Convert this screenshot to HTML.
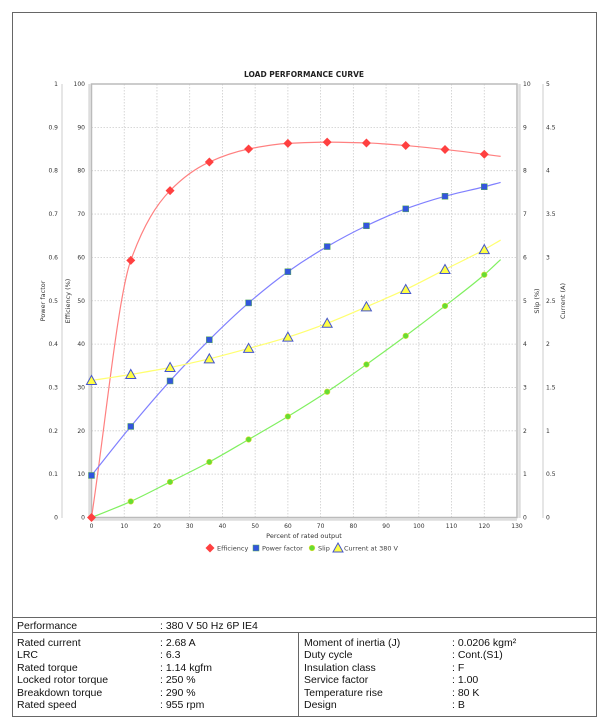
<!DOCTYPE html>
<html><head><meta charset="utf-8">
<style>
html,body{margin:0;padding:0;background:#fff;}
body{width:610px;height:728px;position:relative;overflow:hidden;font-family:"Liberation Sans",sans-serif;}
svg text{font-family:"DejaVu Sans","Liberation Sans",sans-serif;}
.tbl{position:absolute;font-size:10.5px;color:#111;}
</style></head><body>
<svg id="s" width="610" height="728" style="position:absolute;left:0;top:0">
<rect x="12.5" y="12.5" width="584" height="704" fill="none" stroke="#666" stroke-width="1"/>
<line x1="12" y1="617.5" x2="597" y2="617.5" stroke="#666"/>
<line x1="12" y1="632.5" x2="597" y2="632.5" stroke="#666"/>
<line x1="298.5" y1="632" x2="298.5" y2="717" stroke="#666"/>
<text x="304" y="77" font-size="7.5" font-weight="bold" text-anchor="middle" fill="#222">LOAD PERFORMANCE CURVE</text>
<g id="g"></g>
</svg>
<div class="tbl" style="left:17px;top:620px">Performance</div>
<div class="tbl" style="left:160px;top:620px">: 380 V 50 Hz 6P IE4</div>
<div class="tbl" style="left:17px;top:637px;line-height:12.4px">Rated current<br>LRC<br>Rated torque<br>Locked rotor torque<br>Breakdown torque<br>Rated speed</div>
<div class="tbl" style="left:160px;top:637px;line-height:12.4px">: 2.68 A<br>: 6.3<br>: 1.14 kgfm<br>: 250 %<br>: 290 %<br>: 955 rpm</div>
<div class="tbl" style="left:304px;top:637px;line-height:12.4px">Moment of inertia (J)<br>Duty cycle<br>Insulation class<br>Service factor<br>Temperature rise<br>Design</div>
<div class="tbl" style="left:452px;top:637px;line-height:12.4px">: 0.0206 kgm²<br>: Cont.(S1)<br>: F<br>: 1.00<br>: 80 K<br>: B</div>
<script>
var g=document.getElementById('g'),h='';
var X0=91.5,XS=(517-91.5)/130,Y0=517.5,YS=(517.5-84)/100;
function X(v){return X0+v*XS}function Y(v){return Y0-v*YS}
for(var i=10;i<130;i+=10)h+='<line x1="'+X(i)+'" y1="84" x2="'+X(i)+'" y2="517.5" stroke="#ccc" stroke-dasharray="1.5,1.5" stroke-width="0.8"/>';
for(var i=10;i<100;i+=10)h+='<line x1="91.5" y1="'+Y(i)+'" x2="517" y2="'+Y(i)+'" stroke="#ccc" stroke-dasharray="1.5,1.5" stroke-width="0.8"/>';
h+='<rect x="91.5" y="84" width="425.5" height="433.5" fill="none" stroke="#bbb" stroke-width="1.5"/>';
h+='<line x1="89.5" y1="84" x2="89.5" y2="518" stroke="#ddd" stroke-width="2.5"/>';
h+='<line x1="519.5" y1="84" x2="519.5" y2="518" stroke="#ddd" stroke-width="2.5"/>';
h+='<line x1="91" y1="519.5" x2="517" y2="519.5" stroke="#ddd" stroke-width="2.5"/>';
h+='<line x1="62" y1="84" x2="62" y2="518" stroke="#ddd" stroke-width="1.5"/>';
h+='<line x1="543" y1="84" x2="543" y2="518" stroke="#ddd" stroke-width="1.5"/>';
var ts='font-size="6" fill="#333"';
for(var i=0;i<=10;i++){var y=Y(i*10)+2;
h+='<text x="58" y="'+y+'" text-anchor="end" '+ts+'>'+(i==0?'0':i==10?'1':(i/10).toFixed(1))+'</text>';
h+='<text x="85" y="'+y+'" text-anchor="end" '+ts+'>'+(i*10)+'</text>';
h+='<text x="523" y="'+y+'" '+ts+'>'+i+'</text>';
h+='<text x="546" y="'+y+'" '+ts+'>'+(i%2?(i/2).toFixed(1):i/2)+'</text>';}
for(var i=0;i<=130;i+=10)h+='<text x="'+X(i)+'" y="528" text-anchor="middle" '+ts+'>'+i+'</text>';
h+='<text x="304" y="538" text-anchor="middle" font-size="6.5" fill="#333">Percent of rated output</text>';
h+='<text transform="translate(45,301) rotate(-90)" text-anchor="middle" font-size="6.5" fill="#333">Power factor</text>';
h+='<text transform="translate(70,301) rotate(-90)" text-anchor="middle" font-size="6.5" fill="#333">Efficiency (%)</text>';
h+='<text transform="translate(539,301) rotate(-90)" text-anchor="middle" font-size="6.5" fill="#333">Slip (%)</text>';
h+='<text transform="translate(565,301) rotate(-90)" text-anchor="middle" font-size="6.5" fill="#333">Current (A)</text>';
var xs=[0,12,24,36,48,60,72,84,96,108,120];
var eff=[0,59.3,75.4,82,85,86.3,86.6,86.4,85.8,84.9,83.8],effE=83.3;
var pf=[.097,.21,.315,.41,.495,.567,.625,.673,.712,.741,.763],pfE=.773;
var sl=[0,.37,.82,1.28,1.8,2.33,2.9,3.53,4.19,4.88,5.6],slE=5.95;
var cu=[1.58,1.65,1.73,1.83,1.95,2.08,2.24,2.43,2.63,2.86,3.09],cuE=3.2;
function curve(vals,end,sc,col){
var px=xs.concat([125]),py=vals.concat([end]).map(function(v){return v*sc});
var n=px.length,dl=[],m=[];
for(var i=0;i<n-1;i++)dl.push((py[i+1]-py[i])/(px[i+1]-px[i]));
m[0]=dl[0];m[n-1]=dl[n-2];
for(var i=1;i<n-1;i++){if(dl[i-1]*dl[i]<=0)m[i]=0;else{var w1=2*(px[i+1]-px[i])+(px[i]-px[i-1]),w2=(px[i+1]-px[i])+2*(px[i]-px[i-1]);m[i]=(w1+w2)/(w1/dl[i-1]+w2/dl[i]);}}
var d='M'+X(px[0])+','+Y(py[0]);
for(var i=0;i<n-1;i++){var hh=px[i+1]-px[i];
d+=' C'+X(px[i]+hh/3)+','+Y(py[i]+m[i]*hh/3)+' '+X(px[i+1]-hh/3)+','+Y(py[i+1]-m[i+1]*hh/3)+' '+X(px[i+1])+','+Y(py[i+1]);}
h+='<path d="'+d+'" fill="none" stroke="'+col+'" stroke-width="1.2"/>';}
curve(eff,effE,1,'#ff8080');curve(pf,pfE,100,'#8080ff');curve(sl,slE,10,'#80f060');curve(cu,cuE,20,'#ffff70');
function dia(x,y){return '<polygon points="'+x+','+(y-4.5)+' '+(x+4.5)+','+y+' '+x+','+(y+4.5)+' '+(x-4.5)+','+y+'" fill="#ff4040"/>';}
function sq(x,y){return '<rect x="'+(x-3)+'" y="'+(y-3)+'" width="6" height="6" fill="#3355dd" stroke="#5a5" stroke-width="0.5"/>';}
function dot(x,y){return '<circle cx="'+x+'" cy="'+y+'" r="2.8" fill="#66dd33" stroke="#dd3" stroke-width="0.6"/>';}
function tri(x,y){return '<polygon points="'+x+','+(y-5)+' '+(x+5)+','+(y+4)+' '+(x-5)+','+(y+4)+'" fill="#ffff44" stroke="#4455cc" stroke-width="1"/>';}
for(var i=0;i<xs.length;i++){var x=X(xs[i]);h+=dot(x,Y(sl[i]*10))+tri(x,Y(cu[i]*20))+sq(x,Y(pf[i]*100))+dia(x,Y(eff[i]));}
var ly=548,ls='font-size="6.5" fill="#444"';
h+=dia(210,ly)+'<text x="217" y="'+(ly+2.3)+'" '+ls+'>Efficiency</text>';
h+=sq(256,ly)+'<text x="262" y="'+(ly+2.3)+'" '+ls+'>Power factor</text>';
h+=dot(312,ly)+'<text x="318" y="'+(ly+2.3)+'" '+ls+'>Slip</text>';
h+=tri(338,ly)+'<text x="344" y="'+(ly+2.3)+'" '+ls+'>Current at 380 V</text>';
g.innerHTML=h;
</script>
</body></html>
